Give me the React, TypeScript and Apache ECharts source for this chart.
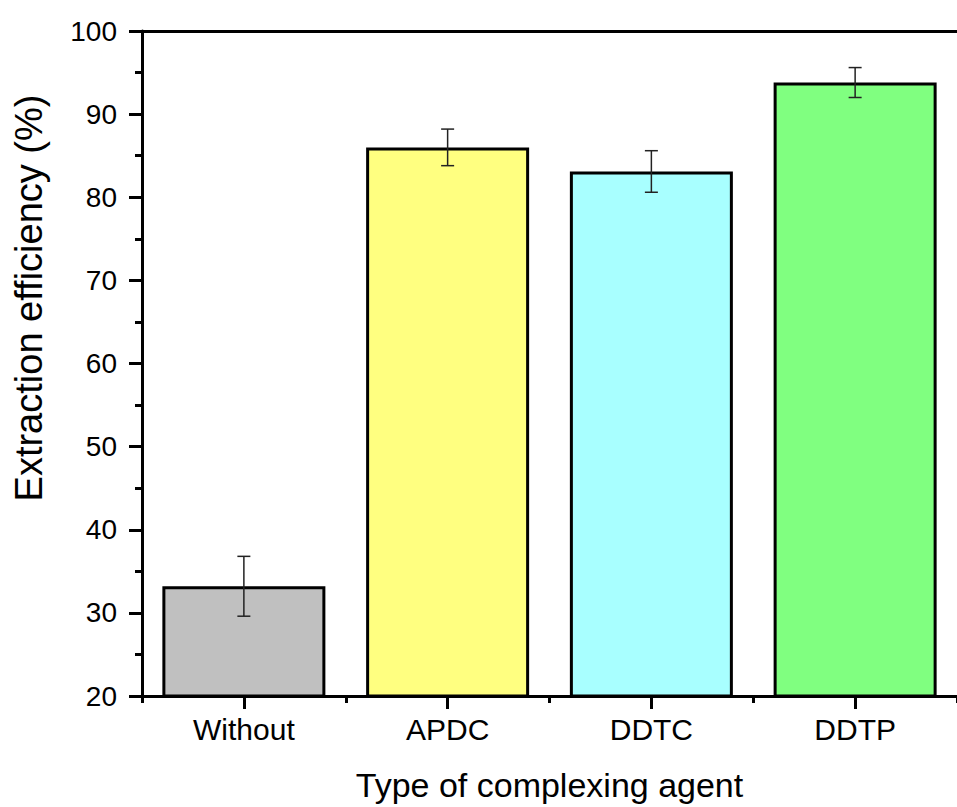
import React, { useEffect, useRef } from "react";
import * as echarts from "echarts";

const categories = ["Without", "APDC", "DDTC", "DDTP"];
const efficiency = [33.2, 86.0, 83.1, 93.8];
const errors = [3.6, 2.2, 2.5, 1.8];
const barColors = ["#C0C0C0", "#FFFF80", "#A8FFFF", "#80FF80"];
const yTicks = { min: 20, max: 100, interval: 10 };

export default function App() {
  const ref = useRef<HTMLDivElement>(null);
  useEffect(() => {
    if (!ref.current) return;
    const chart = echarts.init(ref.current, null, { renderer: "svg" });
    const font = "'Liberation Sans', Arial, sans-serif";
    const errData = categories.map((_, i) => [i, efficiency[i] - errors[i], efficiency[i] + errors[i]]);
    chart.setOption({
      animation: false,
      backgroundColor: "#ffffff",
      grid: { left: 142, top: 31, width: 820, height: 665, containLabel: false },
      xAxis: [
        {
          type: "category",
          data: categories,
          position: "bottom",
          boundaryGap: true,
          axisLine: { show: true, lineStyle: { color: "#000", width: 3 } },
          axisTick: { show: true, alignWithLabel: true, length: 13, inside: false, lineStyle: { color: "#000", width: 3 } },
          axisLabel: { fontFamily: font, fontSize: 30, color: "#000", margin: 18 },
          name: "Type of complexing agent",
          nameLocation: "middle",
          nameGap: 72,
          nameTextStyle: { fontFamily: font, fontSize: 34, color: "#000" },
          splitLine: { show: false },
        },
        {
          type: "category",
          data: categories,
          position: "bottom",
          gridIndex: 0,
          boundaryGap: true,
          axisLine: { show: false },
          axisTick: { show: true, alignWithLabel: false, length: 7, lineStyle: { color: "#000", width: 3 } },
          axisLabel: { show: false },
          splitLine: { show: false },
        },
        {
          type: "category",
          data: categories,
          position: "top",
          gridIndex: 0,
          boundaryGap: true,
          axisLine: { show: true, lineStyle: { color: "#000", width: 3 } },
          axisTick: { show: false },
          axisLabel: { show: false },
          splitLine: { show: false },
        },
      ],
      yAxis: {
        type: "value",
        min: yTicks.min,
        max: yTicks.max,
        interval: yTicks.interval,
        axisLine: { show: true, lineStyle: { color: "#000", width: 3 } },
        axisTick: { show: true, length: 13, inside: false, lineStyle: { color: "#000", width: 3 } },
        minorTick: { show: true, splitNumber: 2, length: 7, lineStyle: { color: "#000", width: 3 } },
        axisLabel: { fontFamily: font, fontSize: 28, color: "#000", margin: 25 },
        splitLine: { show: false },
      },
      graphic: [
        {
          type: "text",
          x: 29,
          y: 298,
          rotation: Math.PI / 2,
          style: {
            text: "Extraction efficiency (%)",
            fontFamily: font,
            fontSize: 38,
            fill: "#000",
            align: "center",
            verticalAlign: "middle",
          },
        },
      ],
      series: [
        {
          type: "bar",
          xAxisIndex: 0,
          yAxisIndex: 0,
          barWidth: "80%",
          data: efficiency.map((v, i) => ({
            value: v,
            itemStyle: { color: barColors[i], borderColor: "#000", borderWidth: 3 },
          })),
        },
        {
          type: "custom",
          xAxisIndex: 0,
          yAxisIndex: 0,
          data: errData,
          z: 10,
          renderItem: (params: any, api: any) => {
            const x = api.value(0);
            const lo = api.coord([x, api.value(1)]);
            const hi = api.coord([x, api.value(2)]);
            const hw = 6.5;
            const style = { stroke: "#222", lineWidth: 1.5 };
            return {
              type: "group",
              children: [
                { type: "line", shape: { x1: lo[0], y1: lo[1], x2: hi[0], y2: hi[1] }, style },
                { type: "line", shape: { x1: lo[0] - hw, y1: lo[1], x2: lo[0] + hw, y2: lo[1] }, style },
                { type: "line", shape: { x1: hi[0] - hw, y1: hi[1], x2: hi[0] + hw, y2: hi[1] }, style },
              ],
            };
          },
        },
      ],
    });
    return () => chart.dispose();
  }, []);
  return (
    <div
      ref={ref}
      style={{ position: "absolute", left: 0, top: 0, width: 957, height: 807 }}
    />
  );
}
